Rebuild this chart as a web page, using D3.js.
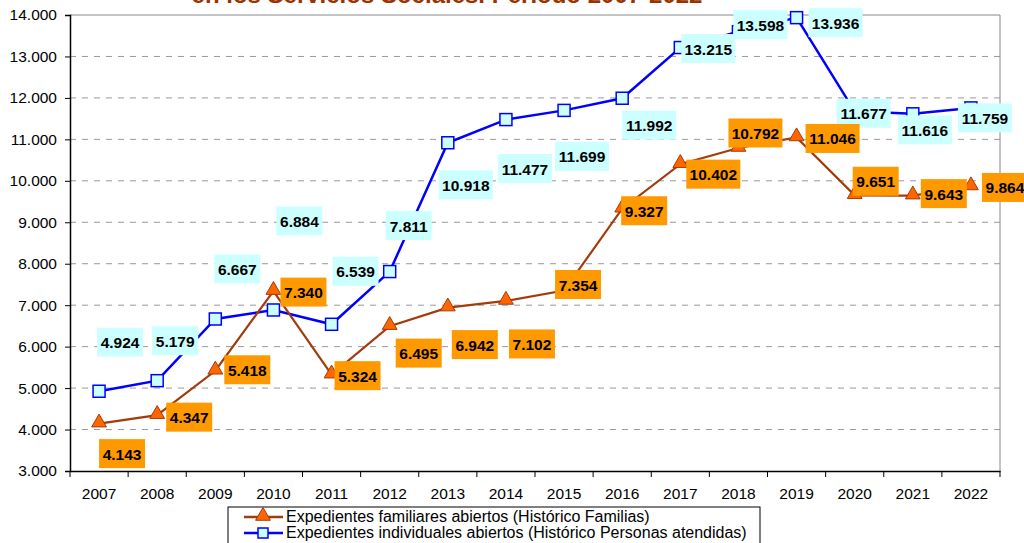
<!DOCTYPE html>
<html>
<head>
<meta charset="utf-8">
<script src="https://cdn.jsdelivr.net/npm/d3@7"></script>
<style>
  body { margin: 0; background: #fff; }
  svg { font-family: "Liberation Sans", Arial, sans-serif; }
</style>
</head>
<body>
<script>
// values
let years = ['2007', '2008', '2009', '2010', '2011', '2012', '2013', '2014', '2015', '2016', '2017', '2018', '2019', '2020', '2021', '2022'];
let familias = [4143, 4347, 5418, 7340, 5324, 6495, 6942, 7102, 7354, 9327, 10402, 10792, 11046, 9651, 9643, 9864];
let personas = [4924, 5179, 6667, 6884, 6539, 7811, 10918, 11477, 11699, 11992, 13215, 13598, 13936, 11677, 11616, 11759];
let yTicks = [3000, 4000, 5000, 6000, 7000, 8000, 9000, 10000, 11000, 12000, 13000, 14000];
let seriesNames = ['Expedientes familiares abiertos (Histórico Familias)', 'Expedientes individuales abiertos (Histórico Personas atendidas)'];

// label placement (pixel offsets from the point, as laid out in the original)
let famOffsets = [[23,30],[32,2],[32,-1],[30,1],[26,1],[29,27],[27,37],[26,43],[14,-6],[22,2],[33,10],[17,-15],[36,1],[21,-14],[31,-2],[34,1]];
let perOffsets = [[21,-49],[18,-40],[22,-50],[26,-89],[24,-53],[19,-46],[18,42],[19,49],[18,46],[27,27],[28,1],[22,-7],[39,5],[9,2],[12,16],[14,10]];

let width = 1024;
let height = 543;
let margin = { left: 70, right: 24, top: 15, bottom: 72 };
let font = '"Liberation Sans", Arial, sans-serif';

let fmt = function (v) {
  return d3.format(',')(v).replace(/,/g, '.');
};

let svg = d3.select('body').append('svg').attr('width', width).attr('height', height);

// title, cut by the top edge
svg.append('text')
  .attr('x', 447).attr('y', 3)
  .attr('text-anchor', 'middle')
  .style('font-size', '24px').style('font-weight', 'bold')
  .attr('fill', '#993300')
  .text('en los Servicios Sociales. Periodo 2007-2022');

let x = d3.scaleBand().domain(years).range([margin.left, width - margin.right]);
let y = d3.scaleLinear().domain([3000, 14000]).range([height - margin.bottom, margin.top]);

let cx = function (d, i) { return x(years[i]) + x.bandwidth() / 2; };

// grid
svg.append('g')
  .selectAll('line')
  .data(yTicks.slice(1, -1))
  .join('line')
  .attr('x1', margin.left).attr('x2', width - margin.right)
  .attr('y1', d => y(d)).attr('y2', d => y(d))
  .attr('stroke', '#999').attr('stroke-dasharray', '6,6');

// top and right border
svg.append('path')
  .attr('d', 'M' + margin.left + ',' + y(14000) + 'H' + (width - margin.right) + 'V' + y(3000))
  .attr('fill', 'none').attr('stroke', '#888');

// axes
let yAxis = d3.axisLeft(y).tickValues(yTicks).tickFormat(fmt).tickSize(5).tickPadding(8);
let gy = svg.append('g').attr('transform', 'translate(' + margin.left + ',0)').call(yAxis);
gy.select('.domain').attr('stroke', '#000').attr('stroke-width', 1.5);
gy.selectAll('text').style('font-size', '15.5px').style('font-family', font).attr('fill', '#000');

let xAxis = d3.axisBottom(x).tickSize(0).tickPadding(17);
let gx = svg.append('g').attr('transform', 'translate(0,' + y(3000) + ')').call(xAxis);
gx.select('.domain').attr('stroke', '#000').attr('stroke-width', 1.5);
gx.selectAll('text').style('font-size', '15.5px').style('font-family', font).attr('fill', '#000');
gx.selectAll('.sep')
  .data(years.concat(['end']))
  .join('line')
  .attr('class', 'sep')
  .attr('x1', (d, i) => margin.left + i * x.bandwidth())
  .attr('x2', (d, i) => margin.left + i * x.bandwidth())
  .attr('y1', 0).attr('y2', 6)
  .attr('stroke', '#000');

let line = d3.line().x(cx).y(d => y(d));

// lines
svg.append('path').attr('d', line(personas)).attr('fill', 'none').attr('stroke', '#0000ff').attr('stroke-width', 2.5);
svg.append('path').attr('d', line(familias)).attr('fill', 'none').attr('stroke', '#a33b0b').attr('stroke-width', 2.2);

let tri = d3.symbol().type(d3.symbolTriangle).size(95);

function drawLabels(values, offsets, bg) {
  let g = svg.append('g');
  values.forEach(function (v, i) {
    let px = cx(v, i) + offsets[i][0];
    let py = y(v) + offsets[i][1];
    let w = v >= 10000 ? 54 : 46;
    g.append('rect')
      .attr('x', px - w / 2).attr('y', py - 14.5)
      .attr('width', w).attr('height', 29)
      .attr('fill', bg);
    g.append('text')
      .attr('x', px).attr('y', py + 6)
      .attr('text-anchor', 'middle')
      .style('font-size', '15.5px').style('font-weight', 'bold')
      .attr('fill', '#000')
      .text(fmt(v));
  });
}

// markers
svg.append('g').selectAll('rect')
  .data(personas).join('rect')
  .attr('x', (d, i) => cx(d, i) - 6).attr('y', d => y(d) - 6)
  .attr('width', 12).attr('height', 12)
  .attr('fill', '#ccffff').attr('stroke', '#0000ff').attr('stroke-width', 1.5);

svg.append('g').selectAll('path')
  .data(familias).join('path')
  .attr('d', tri)
  .attr('transform', (d, i) => 'translate(' + cx(d, i) + ',' + (y(d) - 1) + ')')
  .attr('fill', '#ff6600').attr('stroke', '#a33b0b').attr('stroke-width', 1);

drawLabels(personas, perOffsets, '#ccffff');
drawLabels(familias, famOffsets, '#ff9900');

// legend
let lg = svg.append('g').attr('transform', 'translate(228,507)');
lg.append('rect').attr('width', 532).attr('height', 40).attr('fill', '#fff').attr('stroke', '#000');
seriesNames.forEach(function (name, i) {
  let ly = 10 + i * 16;
  lg.append('line').attr('x1', 16).attr('x2', 55).attr('y1', ly).attr('y2', ly)
    .attr('stroke', i === 0 ? '#a33b0b' : '#0000ff').attr('stroke-width', 2.5);
  if (i === 0) {
    lg.append('path').attr('d', tri).attr('transform', 'translate(35,' + (ly - 1) + ')')
      .attr('fill', '#ff6600').attr('stroke', '#a33b0b');
  } else {
    lg.append('rect').attr('x', 30).attr('y', ly - 5).attr('width', 10).attr('height', 10)
      .attr('fill', '#ccffff').attr('stroke', '#0000ff').attr('stroke-width', 1.5);
  }
  lg.append('text').attr('x', 58).attr('y', ly + 5).style('font-size', '16px').attr('fill', '#000').text(name);
});
</script>
</body>
</html>
